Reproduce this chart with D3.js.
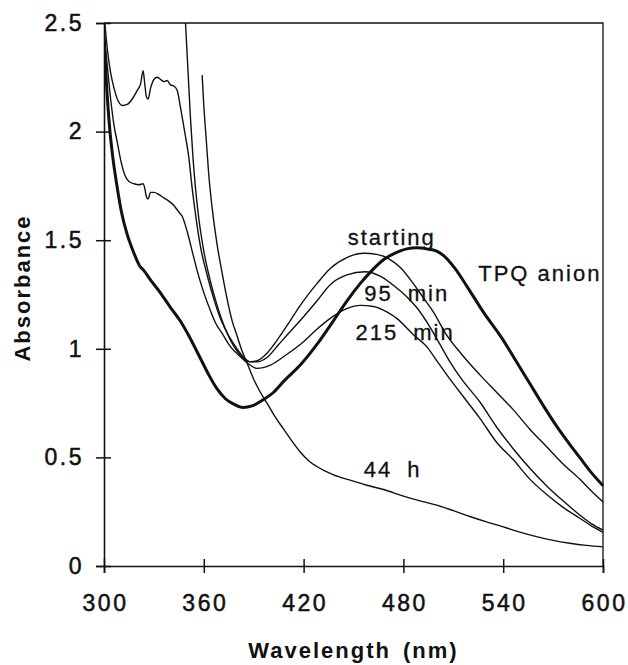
<!DOCTYPE html>
<html>
<head>
<meta charset="utf-8">
<script src="https://cdn.jsdelivr.net/npm/d3@7"></script>
<style>
	html, body { margin: 0; padding: 0; background: #fff; }
	#chart { width: 628px; height: 665px; }
	text { font-family: 'Liberation Sans', Arial, Helvetica, sans-serif; fill: #111; }
</style>
</head>
<body>
<div id="chart"></div>
<script>
//data
const xTicks = [300, 360, 420, 480, 540, 600];
const yTicks = [0, 0.5, 1, 1.5, 2, 2.5];
const yTickLabels = ['0', '0.5', '1', '1.5', '2', '2.5'];

// [wavelength nm, absorbance]
const tpqAnion = [
	[300, 2.44], [301.5, 2.22], [303.6, 2.0], [305.5, 1.87], [307.8, 1.75], [310.5, 1.63],
	[313.8, 1.53], [317.5, 1.45], [321.6, 1.38], [324, 1.36], [327.7, 1.32], [333.7, 1.26],
	[340, 1.19], [345.7, 1.13], [351, 1.06], [357.7, 0.96], [363, 0.88], [368, 0.815],
	[373, 0.77], [378, 0.745], [383.6, 0.73], [389, 0.737], [395.6, 0.765], [402, 0.8],
	[408, 0.85], [418, 0.925], [428, 1.02], [438, 1.13], [446, 1.22], [454, 1.3],
	[461, 1.36], [468, 1.41], [475, 1.44], [482, 1.46], [488, 1.465], [494, 1.46],
	[500, 1.45], [504, 1.43], [511, 1.37], [518, 1.29], [528, 1.17], [540, 1.04],
	[548, 0.94], [556, 0.84], [564, 0.74], [572, 0.645], [580, 0.56], [586, 0.5],
	[593, 0.43], [600, 0.37],
];

const starting = [
	[349, 2.5], [350.5, 2.28], [352, 2.06], [353.5, 1.88], [355, 1.74], [357, 1.6],
	[360, 1.45], [364, 1.31], [368, 1.2], [372, 1.11], [376, 1.04], [380, 0.99],
	[384, 0.955], [388, 0.94], [392, 0.945], [398, 0.98], [405, 1.05], [412, 1.13],
	[418, 1.2], [428, 1.3], [436, 1.37], [446, 1.42], [456, 1.44], [464, 1.435],
	[471, 1.415], [478, 1.375], [486, 1.3], [492, 1.235], [498, 1.17], [505, 1.075],
	[515, 0.975], [526, 0.88], [536, 0.8], [546, 0.72], [556, 0.63], [566, 0.55],
	[576, 0.47], [586, 0.4], [593, 0.345], [600, 0.295],
];

const min95 = [
	[300.5, 2.5], [302, 2.38], [304, 2.27], [306, 2.2], [308, 2.15], [311, 2.12],
	[314, 2.125], [317, 2.15], [320, 2.19], [322, 2.22], [323.5, 2.28], [324.5, 2.22],
	[325.5, 2.16], [326.5, 2.15], [328, 2.2], [330, 2.24], [332, 2.25], [334, 2.24],
	[336, 2.23], [338, 2.235], [340, 2.215], [342, 2.21], [344, 2.19], [346, 2.11],
	[348.5, 2.0], [351, 1.88], [353, 1.74], [355, 1.62], [358, 1.47], [362, 1.34],
	[366, 1.23], [370, 1.14], [375, 1.06], [380, 1.0], [384, 0.96], [388, 0.94],
	[392, 0.94], [398, 0.96], [405, 1.02], [412, 1.08], [418, 1.13], [428, 1.22],
	[436, 1.295], [446, 1.34], [457, 1.355], [466, 1.335], [476, 1.28], [482, 1.24],
	[488, 1.19], [496, 1.1], [502, 1.02], [508, 0.94], [515, 0.86], [526, 0.755],
	[536, 0.64], [546, 0.54], [556, 0.45], [566, 0.37], [576, 0.3], [586, 0.235],
	[593, 0.195], [600, 0.165],
];

const min215 = [
	[300, 2.45], [302, 2.3], [304, 2.15], [306, 2.03], [308, 1.95], [310, 1.87],
	[312.5, 1.8], [315, 1.77], [318, 1.76], [321, 1.755], [323.5, 1.76], [324.5, 1.74],
	[325.5, 1.7], [326.5, 1.69], [328, 1.72], [330, 1.72], [333, 1.71], [336, 1.695],
	[339, 1.68], [342, 1.66], [345, 1.63], [347, 1.61], [350, 1.54], [353, 1.45],
	[356, 1.36], [359.5, 1.27], [363.5, 1.185], [367, 1.12], [371.5, 1.065], [376, 1.01],
	[381.8, 0.965], [387, 0.93], [392, 0.91], [400, 0.925], [410, 0.975], [418, 1.02],
	[428, 1.09], [436, 1.14], [446, 1.185], [454, 1.2], [462, 1.195], [470, 1.17],
	[476, 1.14], [486, 1.065], [494, 1.01], [501, 0.935], [508, 0.86], [517, 0.77],
	[526, 0.68], [536, 0.57], [546, 0.49], [556, 0.4], [566, 0.33], [576, 0.27],
	[586, 0.22], [593, 0.185], [600, 0.155],
];

const hours44 = [
	[359, 2.26], [360, 2.12], [361.5, 1.96], [363, 1.8], [365, 1.65], [368, 1.48],
	[371, 1.35], [374, 1.23], [377, 1.13], [380, 1.06], [383, 0.99], [386, 0.935],
	[390, 0.86], [394, 0.8], [398, 0.75], [403, 0.685], [408, 0.63], [413, 0.575],
	[418, 0.525], [423, 0.485], [428, 0.458], [433, 0.437], [438, 0.42], [448, 0.395],
	[458, 0.372], [468, 0.352], [480, 0.322], [490, 0.3], [500, 0.28], [510, 0.255],
	[520, 0.228], [530, 0.203], [540, 0.18], [550, 0.156], [560, 0.135], [570, 0.118],
	[580, 0.105], [590, 0.095], [600, 0.088],
];

const seriesNames = ['TPQ anion', 'starting', '95 min', '215 min', '44 h'];
const seriesData = [tpqAnion, starting, min95, min215, hours44];
const seriesThick = [true, false, false, false, false];
// label anchor in data units (wavelength, absorbance)
const labelAt = [[562, 1.31], [473, 1.48], [482, 1.22], [481, 1.04], [473.5, 0.41]];
const labelWordGap = [0, 0, 7, 7, 7];

render();

function render() {
	let properties = {
		width: 628,
		height: 665,
		margin: { top: 23, right: 25, bottom: 99, left: 104 },
		xDomain: [300, 600],
		yDomain: [0, 2.5],
		fontSize: 22,
	};

	createVisualization(d3.select('#chart'), properties);
}

function createVisualization(container, props) {
	let { width, height, margin, xDomain, yDomain, fontSize } = props;

	const innerWidth = width - margin.left - margin.right;
	const innerHeight = height - margin.top - margin.bottom;

	const x = d3.scaleLinear().domain(xDomain).range([0, innerWidth]);
	const y = d3.scaleLinear().domain(yDomain).range([innerHeight, 0]);

	const svg = container
		.append('svg')
		.attr('width', width)
		.attr('height', height);

	svg.append('defs')
		.append('clipPath')
		.attr('id', 'plot-clip')
		.append('rect')
		.attr('x', 0)
		.attr('y', -1)
		.attr('width', innerWidth + 1)
		.attr('height', innerHeight + 1);

	const g = svg.append('g').attr('transform', translation(margin.left, margin.top));

	//frame (top + right)
	g.append('path')
		.attr('d', `M0,0H${innerWidth}V${innerHeight}`)
		.style('fill', 'none')
		.style('stroke', '#111')
		.style('stroke-width', 1.3);

	//axes
	const xAxis = d3.axisBottom(x).tickValues(xTicks).tickSize(7).tickPadding(22);
	const gx = g.append('g')
		.attr('class', 'x-axis')
		.attr('transform', translation(0, innerHeight))
		.call(xAxis);
	gx.selectAll('.tick line').attr('y1', -7);

	const yAxis = d3.axisLeft(y)
		.tickValues(yTicks)
		.tickFormat((d, i) => yTickLabels[i])
		.tickSize(8)
		.tickPadding(14);
	const gy = g.append('g').attr('class', 'y-axis').call(yAxis);
	gy.selectAll('.tick line').attr('x1', 7);

	[gx, gy].forEach((ax) => {
		ax.select('.domain').style('stroke', '#111').style('stroke-width', 1.6);
		ax.selectAll('.tick line').style('stroke', '#111').style('stroke-width', 1.5);
		ax.selectAll('.tick text')
			.style('font-family', "'Liberation Sans', Arial, sans-serif")
			.style('font-size', fontSize + 1 + 'px')
			.style('letter-spacing', '2.5px')
			.style('fill', '#111')
			.style('stroke', '#111')
			.style('stroke-width', 0.5);
	});
	gx.selectAll('.tick text').attr('dx', '1px');
	gy.selectAll('.tick text').attr('dx', '2px');

	//curves
	const line = d3
		.line()
		.x((d) => x(d[0]))
		.y((d) => y(d[1]))
		.curve(d3.curveMonotoneX);

	const curves = g.append('g').attr('clip-path', 'url(#plot-clip)');
	curves
		.selectAll('.curve')
		.data(seriesData)
		.enter()
		.append('path')
		.attr('class', 'curve')
		.attr('d', (d) => line(d))
		.style('fill', 'none')
		.style('stroke', '#111')
		.style('stroke-linejoin', 'round')
		.style('stroke-width', (d, i) => (seriesThick[i] ? 3 : 1.4));

	//labels
	g.selectAll('.series-label')
		.data(seriesNames)
		.enter()
		.append('text')
		.attr('class', 'series-label')
		.attr('x', (d, i) => x(labelAt[i][0]))
		.attr('y', (d, i) => y(labelAt[i][1]))
		.style('text-anchor', 'middle')
		.style('font-size', fontSize + 'px')
		.style('letter-spacing', '2px')
		.style('word-spacing', (d, i) => labelWordGap[i] + 'px')
		.style('stroke', '#111')
		.style('stroke-width', 0.3)
		.text((d) => d);

	//axis titles
	svg.append('text')
		.attr('x', margin.left + innerWidth / 2)
		.attr('y', 658)
		.style('text-anchor', 'middle')
		.style('font-weight', 'bold')
		.style('font-size', fontSize + 'px')
		.style('letter-spacing', '2px')
		.style('word-spacing', '4px')
		.text('Wavelength (nm)');

	svg.append('text')
		.attr('transform', `translate(30, ${margin.top + y(1.28)}) rotate(-90)`)
		.style('text-anchor', 'middle')
		.style('font-weight', 'bold')
		.style('font-size', fontSize + 'px')
		.style('letter-spacing', '2px')
		.text('Absorbance');
}

//utils
function translation(x, y) {
	return `translate(${x}, ${y})`;
}
</script>
</body>
</html>
